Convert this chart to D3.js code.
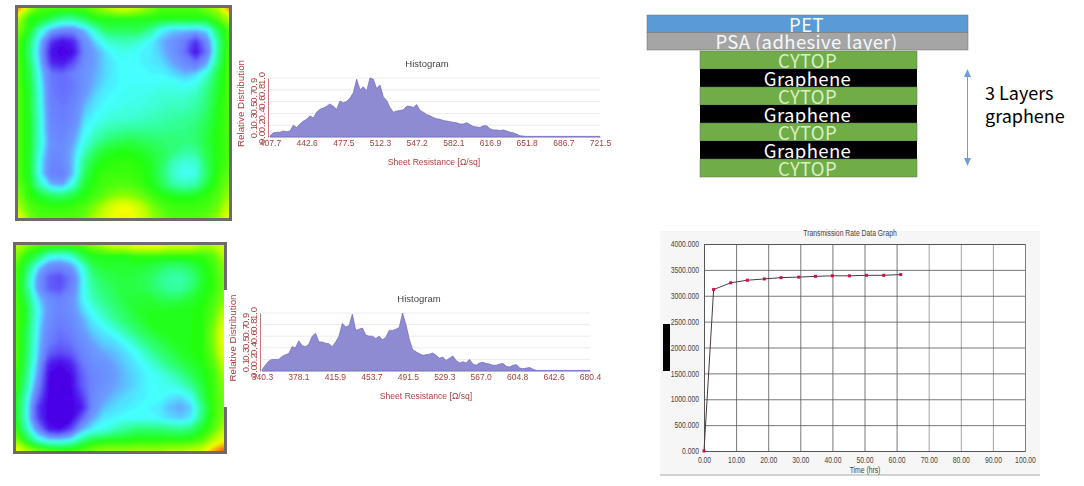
<!DOCTYPE html>
<html>
<head>
<meta charset="utf-8">
<script src="https://cdn.jsdelivr.net/npm/d3@7"></script>
<style>
  html, body { margin: 0; padding: 0; background: #fff; }
  svg { display: block; }
  text { font-family: "Liberation Sans", Arial, sans-serif; }
</style>
</head>
<body>
<div id="chart"></div>
<script>
// Sheet resistance maps (0 = violet ... 10 = red)
const mapTop = [
  [9.5,7,6,6,6,6,6,6.5,7,7.5,7.5,7,6.5,6,6,6,6,6.5,7,9.5],
  [7,5.5,5.5,5,4.5,4.5,5,5.5,5.5,5.5,5.5,5.5,5.5,5.5,5.5,5.5,5.5,5.5,6,7],
  [6.5,5.5,4,3,2.5,2.5,3.2,4.2,5,5,5,5,4.5,3.6,3.3,3.3,3.2,3.5,5,6],
  [6,5,3.2,1,0.3,0.8,2.6,3.4,4,4.2,4.2,4,3.6,3.1,2.7,2.1,0.9,2.5,4.5,6],
  [6,4.8,3,0.3,0,0.3,2.4,3,3.5,3.8,3.8,3.6,3.5,3.2,2.7,1.9,0.3,2,4.6,6],
  [6,5,3.2,0.8,0.5,1.4,2.5,3,3.4,3.6,3.6,3.6,3.5,3.4,3,2.5,2,3,4.8,6],
  [6,5.2,3.5,2,1.8,2.2,2.7,3.1,3.4,3.6,3.6,3.6,3.6,3.6,3.4,3.2,3.4,4,5.2,6],
  [6,5.3,3.7,2,1.8,2,2.7,3.2,3.5,3.6,3.7,3.7,3.7,3.8,3.8,3.7,3.8,4.5,5.3,6],
  [6,5.4,3.8,2.1,1.9,2.1,2.9,3.4,3.6,3.7,3.7,3.8,3.9,4,4,4,4.2,4.7,5.4,6],
  [6,5.4,3.8,2.2,2,2.3,3.2,3.5,3.7,3.8,3.9,3.9,4,4.1,4.2,4.2,4.4,4.8,5.5,6],
  [6,5.4,3.9,2.3,2.1,2.4,3.4,3.7,3.9,4,4,4.1,4.2,4.3,4.4,4.5,4.6,5,5.5,6],
  [6,5.4,3.9,2.4,2.2,2.7,3.6,4,4.3,4.4,4.5,4.5,4.5,4.5,4.6,4.6,4.8,5.1,5.6,6],
  [6,5.4,4,2.6,2.4,3,3.8,4.4,4.8,5,5.1,5,4.9,4.8,4.8,4.7,4.8,5.2,5.6,6],
  [6,5.4,3.8,2.5,2.5,3.2,4.2,5,5.4,5.5,5.5,5.4,5.2,5,4.7,4.4,4.5,5.1,5.6,6],
  [6,5.4,3.6,2.3,2.4,3.3,4.7,5.4,5.6,5.7,5.7,5.6,5.4,4.9,4.2,3.9,4,5,5.6,6],
  [6,5.4,3.6,2.2,2.1,3.3,5,5.6,5.8,5.8,5.8,5.7,5.4,4.8,4,3.7,3.8,4.9,5.7,6.2],
  [6.2,5.5,4.2,3.2,3,4,5.3,5.7,5.9,6,6,5.8,5.5,5,4.4,4.2,4.4,5.2,5.8,6.5],
  [6.5,5.7,5.3,5,4.9,5.2,5.6,5.9,6.3,6.6,6.6,6.3,5.9,5.6,5.5,5.4,5.5,5.7,6,6.8],
  [7,6,5.8,5.7,5.7,5.8,6,6.5,7.3,8,8,7.3,6.5,6,5.8,5.8,5.8,5.9,6.3,7.3],
  [8,6.5,6,6,6,6,6.3,7,7.6,8.2,8.2,7.6,6.8,6.3,6,6,6,6.2,6.7,8]
];
const mapBottom = [
  [7,6.5,6,6,6,6,6,6.5,7,7.5,7.5,8,8,8,7.5,7.5,7.5,7,7,7.5],
  [6.5,5.5,5,4,3.8,4,5,5.5,5.5,5.5,5.5,5.7,5.7,5.7,5.7,5.7,5.7,5.7,6,7],
  [6,5,3.5,2.5,2.3,2.8,3.8,5,5.3,5.3,5.3,5.3,5.2,5,4.8,4.8,5,5.4,5.8,6.5],
  [6,4.6,2.8,1.6,1.3,2,3.5,4.6,5,5.1,5.2,5.1,5,4.6,4.4,4.3,4.6,5.3,5.7,6.3],
  [6,4.6,2.8,1.6,1.4,2.2,3.5,4.4,4.8,5,5.2,5.1,5,4.7,4.4,4.4,4.8,5.4,5.7,6.3],
  [6,5,3.4,2.6,2.2,2.6,3.5,4.2,4.6,4.9,5.2,5.3,5.3,5.1,5,5.1,5.3,5.5,5.9,6.5],
  [6,5.2,3.7,2.7,2.3,2.6,3.3,3.8,4.3,4.7,5,5.3,5.4,5.4,5.4,5.5,5.5,5.6,6,7],
  [6,5.2,3.6,2.5,2.1,2.4,3,3.5,3.9,4.4,4.8,5.1,5.4,5.5,5.5,5.5,5.5,5.6,6.2,7.5],
  [6,5,3.5,2.3,1.9,2.2,2.8,3.3,3.5,3.8,4.3,4.8,5.1,5.4,5.5,5.5,5.5,5.6,6.4,8],
  [6,5,3.4,2.1,1.7,1.9,2.5,3,3.3,3.4,3.7,4.2,4.7,5,5.3,5.5,5.5,5.6,6.4,8],
  [6,4.9,3.3,1.6,1.2,1.5,2.2,2.8,3,3.2,3.4,3.7,4.2,4.7,5,5.3,5.5,5.6,6.2,7.8],
  [6,4.8,3.1,0.6,0.2,0.6,1.9,2.5,2.7,3,3.3,3.5,3.8,4.2,4.7,5,5.3,5.5,6,7.2],
  [5.8,4.6,2.8,0.2,0,0.2,1.6,2.3,2.6,2.9,3.2,3.4,3.6,3.8,4.1,4.5,5,5.4,5.8,6.8],
  [5.8,4.4,2.4,0.1,0,0.1,1.5,2.3,2.7,3,3.2,3.4,3.6,3.7,3.8,4,4.5,5.2,5.8,6.5],
  [5.5,4,1.8,0,0,0,1,2.4,2.9,3.2,3.4,3.5,3.6,3.7,3.5,3.4,3.8,5,5.8,6.3],
  [5.5,3.8,1,0,0,0,0.5,2.5,3.2,3.4,3.5,3.6,3.6,3.5,3.2,3,3.3,4.6,5.8,6.3],
  [5.5,3.8,1.2,0,0,0,1.6,3,3.5,3.6,3.7,3.7,3.7,3.6,3.4,3.3,3.5,4.8,5.8,6.5],
  [5.8,4.2,2.5,0.5,0.2,1.2,3,3.6,3.8,4.2,4.5,4.8,4.8,4.8,4.7,4.6,4.8,5.4,6,7],
  [6.5,5.2,4,3.5,3.4,3.7,4.6,5.2,5.4,5.5,5.5,5.6,5.6,5.6,5.6,5.6,5.7,6,7,8],
  [8,7,6.5,6.2,6,6,6.2,6.5,6.7,6.7,6.7,6.8,6.8,6.8,7,7,7.2,7.5,9,10]
];

// Histograms
const histTopTicks = [407.7, 442.6, 477.5, 512.3, 547.2, 582.1, 616.9, 651.8, 686.7, 721.5];
const histTopValues = [
  .02,.07,.08,.08,.1,.09,.1,.2,.16,.22,.27,.3,.36,.32,.42,.47,.49,.52,.56,.52,
  .47,.61,.58,.6,.66,.75,.98,.8,.85,.78,1,.98,.82,.88,.68,.62,.5,.42,.44,.45,
  .46,.52,.52,.5,.55,.45,.42,.38,.36,.33,.31,.3,.28,.27,.26,.25,.24,.22,.22,.24,
  .21,.18,.17,.16,.19,.19,.14,.12,.12,.11,.12,.1,.08,.07,.05,.02,.015,.01,.01,.01,
  .01,.01,.01,.01,.01,.01,.01,.01,.01,.01,.01,.01,.01,.01,.01,.01,.01,.01,.01,.01
];
const histBottomTicks = [340.3, 378.1, 415.9, 453.7, 491.5, 529.3, 567.0, 604.8, 642.6, 680.4];
const histBottomValues = [
  .02,.1,.17,.2,.2,.2,.25,.28,.3,.42,.4,.52,.44,.42,.46,.6,.65,.5,.5,.48,
  .47,.42,.5,.6,.82,.76,.78,.98,.7,.72,.74,.62,.6,.6,.56,.6,.54,.58,.7,.7,
  .72,.75,1,.8,.55,.37,.33,.3,.27,.28,.29,.31,.27,.22,.24,.18,.22,.26,.18,.14,
  .16,.14,.2,.12,.1,.14,.15,.13,.12,.1,.1,.12,.13,.08,.07,.1,.11,.05,.04,.05,
  .06,.03,.01,.01,.01,.01,.01,.01,.01,.01,.01,.01,.01,.01,.01,.01,.01,.01,.01
];
const distTicks = [0, .1, .2, .3, .4, .5, .6, .7, .8, .9, 1];

// Layer stack
const filmLayers = ["PET", "PSA (adhesive layer)"];
const filmColors = ["#5b9bd5", "#a5a5a5"];
const stackLayers = ["CYTOP", "Graphene", "CYTOP", "Graphene", "CYTOP", "Graphene", "CYTOP"];

// Transmission rate
const timeHrs = [0, 3, 8.3, 13.5, 18.8, 24, 29.5, 34.7, 40, 45.3, 50.6, 56, 61.3];
const rate = [0, 3120, 3250, 3300, 3325, 3350, 3360, 3375, 3385, 3385, 3395, 3395, 3410];

const svg = d3.select("#chart").append("svg").attr("width", 1084).attr("height", 486);
const defs = svg.append("defs");
defs.append("filter").attr("id", "soft").append("feGaussianBlur").attr("stdDeviation", 0.45);
defs.append("filter").attr("id", "mapBlur").append("feGaussianBlur").attr("stdDeviation", 1.5);

const rainbow = d3.scaleLinear()
  .domain([0, 0.6, 2, 2.9, 3.6, 4.5, 5.5, 7, 8, 10])
  .range(["#4a00e6", "#4f1ff0", "#6a7cff", "#6a9cff", "#45ffff", "#30ff90", "#22ff10", "#b8ff00", "#f2ff00", "#f04a10"])
  .clamp(true);

function drawMap(grid, box, id) {
  const rows = grid.length, cols = grid[0].length;
  const x = d3.scaleLinear().domain([0.5, cols - 0.5]).range([box.x0, box.x1]);
  const y = d3.scaleLinear().domain([0.5, rows - 0.5]).range([box.y0, box.y1]);
  const contours = d3.contours().size([cols, rows]).thresholds(d3.range(-0.1, 10.1, 0.1))(grid.flat());
  const path = d3.geoPath(d3.geoTransform({
    point(px, py) { this.stream.point(x(px), y(py)); }
  }));

  defs.append("clipPath").attr("id", id).append("rect")
    .attr("x", box.x0).attr("y", box.y0)
    .attr("width", box.x1 - box.x0).attr("height", box.y1 - box.y0);

  svg.append("rect")
    .attr("x", box.x0).attr("y", box.y0)
    .attr("width", box.x1 - box.x0).attr("height", box.y1 - box.y0)
    .attr("fill", rainbow(6));

  svg.append("g").attr("clip-path", `url(#${id})`)
    .append("g").attr("filter", "url(#mapBlur)")
    .selectAll("path")
    .data(contours)
    .join("path")
    .attr("d", path)
    .attr("fill", d => rainbow(d.value));

  svg.append("rect")
    .attr("x", box.x0 - 1.5).attr("y", box.y0 - 1.5)
    .attr("width", box.x1 - box.x0 + 3).attr("height", box.y1 - box.y0 + 3)
    .attr("fill", "none")
    .attr("stroke", "#6e6a6a")
    .attr("stroke-width", 3);
}

drawMap(mapTop, { x0: 18, x1: 229, y0: 8, y1: 218 }, "clipTop");
drawMap(mapBottom, { x0: 16, x1: 224, y0: 245, y1: 451 }, "clipBottom");

// the histogram panel sits over the right edge of the lower map
svg.append("rect").attr("x", 224).attr("y", 290).attr("width", 3).attr("height", 117).attr("fill", "#fff");

function drawHistogram(values, ticks, box) {
  const g = svg.append("g").attr("filter", "url(#soft)");
  const red = "#a5403f";
  const x = d3.scaleLinear().domain([ticks[0], ticks[ticks.length - 1]]).range([box.x0, box.x1]);
  const y = d3.scaleLinear().domain([0, 1]).range([box.y0, box.y1]);
  const binWidth = (ticks[ticks.length - 1] - ticks[0]) / (values.length - 1);

  g.append("g").selectAll("line")
    .data([.2, .4, .6, .8, 1])
    .join("line")
    .attr("x1", box.x0).attr("x2", box.x1)
    .attr("y1", d => y(d)).attr("y2", d => y(d))
    .attr("stroke", "#ececec");

  const area = d3.area()
    .x((d, i) => x(ticks[0] + i * binWidth))
    .y0(y(0))
    .y1(d => y(d));

  g.append("path").datum(values)
    .attr("d", area)
    .attr("fill", "#8f8bd2")
    .attr("stroke", "#6e68bd")
    .attr("stroke-width", 0.7);

  const xAxis = g.append("g")
    .attr("transform", `translate(0,${box.y0})`)
    .call(d3.axisBottom(x).tickValues(ticks).tickFormat(d3.format(".1f")).tickSize(0).tickPadding(3));
  xAxis.select(".domain").attr("stroke", "#b9b9b9");
  xAxis.selectAll("text").attr("fill", red).style("font-size", "8.5px");

  // the 0.0 - 1.0 labels are rotated and pile up on two columns
  const yAxis = g.append("g")
    .attr("transform", `translate(${box.x0 - 2},0)`)
    .call(d3.axisLeft(y).tickValues(distTicks).tickFormat(d3.format(".1f")).tickSize(0));
  yAxis.select(".domain").attr("stroke", red).attr("stroke-opacity", 0.7);
  yAxis.selectAll("text")
    .attr("fill", red)
    .attr("x", 0).attr("y", 0).attr("dy", 0)
    .attr("transform", (d, i) => `translate(${i % 2 ? -11 : -3},0) rotate(-90)`)
    .attr("text-anchor", "middle")
    .style("font-size", "9.5px");

  g.append("text")
    .attr("x", box.titleX).attr("y", box.y1 - 11)
    .attr("text-anchor", "middle")
    .attr("fill", "#444")
    .style("font-size", "9.5px")
    .text("Histogram");

  g.append("text")
    .attr("x", box.titleX + 7).attr("y", box.y0 + 28)
    .attr("text-anchor", "middle")
    .attr("fill", red)
    .style("font-size", "8.6px")
    .text("Sheet Resistance [\u03a9/sq]");

  g.append("text")
    .attr("transform", `translate(${box.x0 - 26},${(box.y0 + box.y1) / 2 - 4}) rotate(-90)`)
    .attr("text-anchor", "middle")
    .attr("fill", red)
    .style("font-size", "9.8px")
    .text("Relative Distribution");
}

drawHistogram(histTopValues, histTopTicks, { x0: 270, x1: 600, y0: 137, y1: 78, titleX: 427 });
drawHistogram(histBottomValues, histBottomTicks, { x0: 262, x1: 590, y0: 371, y1: 313, titleX: 419 });

// Layer stack
const filmY = d3.scaleBand().domain(d3.range(filmLayers.length)).range([15, 50]);
const stackY = d3.scaleBand().domain(d3.range(stackLayers.length)).range([51, 177]);

function drawLayers(names, yScale, x0, x1, fill, color) {
  const layer = svg.append("g").selectAll("g")
    .data(names)
    .join("g");
  layer.append("rect")
    .attr("x", x0).attr("width", x1 - x0)
    .attr("y", (d, i) => yScale(i)).attr("height", yScale.bandwidth())
    .attr("fill", (d, i) => fill(d, i))
    .attr("stroke", d => d === "Graphene" ? "none" : "#6b6b6b")
    .attr("stroke-width", 0.5);
  layer.append("text")
    .attr("x", (x0 + x1) / 2 - 1)
    .attr("y", (d, i) => yScale(i) + yScale.bandwidth() - 1)
    .attr("text-anchor", "middle")
    .attr("fill", (d, i) => color(d, i))
    .style("font-family", "'Noto Sans CJK KR', 'Noto Sans', sans-serif")
    .style("font-size", "18.5px")
    .style("letter-spacing", "0.4px")
    .text(d => d);
}

drawLayers(filmLayers, filmY, 647, 968, (d, i) => filmColors[i], () => "#f4f8fc");
drawLayers(stackLayers, stackY, 700, 917,
  d => d === "Graphene" ? "#000" : "#70ad47",
  d => d === "Graphene" ? "#fff" : "#d9f0c4");

// Double headed arrow next to the stack
const arrowColor = "#6f9fd0";
svg.append("line")
  .attr("x1", 967.5).attr("x2", 967.5).attr("y1", 72).attr("y2", 164)
  .attr("stroke", arrowColor).attr("stroke-width", 1);
svg.append("path").attr("d", d3.line()([[967.5, 69], [964, 77], [971, 77]])).attr("fill", arrowColor);
svg.append("path").attr("d", d3.line()([[967.5, 166], [964, 158], [971, 158]])).attr("fill", arrowColor);

svg.selectAll(".note")
  .data(["3 Layers", "graphene"])
  .join("text")
  .attr("x", 985)
  .attr("y", (d, i) => 100 + i * 23)
  .attr("fill", "#000")
  .style("font-family", "'Noto Sans CJK KR', 'Noto Sans', sans-serif")
  .style("font-size", "18px")
  .text(d => d);

// Transmission rate graph
svg.append("rect").attr("x", 660).attr("y", 231).attr("width", 380).attr("height", 244).attr("fill", "#f6f6f6");
svg.append("line").attr("x1", 660).attr("x2", 1040).attr("y1", 475).attr("y2", 475).attr("stroke", "#a8a8a8");
svg.append("rect").attr("x", 704).attr("y", 244).attr("width", 321).attr("height", 207).attr("fill", "#fff");

// labels on this graph are squeezed sideways in the original screenshot
function squeeze(sel) {
  sel.style("font-size", "8.5px").attr("fill", "#444");
  sel.each(function() {
    d3.select(this)
      .attr("textLength", this.getComputedTextLength() * 0.8)
      .attr("lengthAdjust", "spacingAndGlyphs");
  });
}

const rateX = d3.scaleLinear().domain([0, 100]).range([704, 1025]);
const rateY = d3.scaleLinear().domain([0, 4000]).range([451, 244]);

const rateXAxis = svg.append("g")
  .attr("transform", "translate(0,451)")
  .call(d3.axisBottom(rateX).ticks(10).tickFormat(d3.format(".2f")).tickSize(-207).tickPadding(6));
const rateYAxis = svg.append("g")
  .attr("transform", "translate(704,0)")
  .call(d3.axisLeft(rateY).ticks(8).tickFormat(d3.format(".3f")).tickSize(-321).tickPadding(5));
[rateXAxis, rateYAxis].forEach(a => {
  a.select(".domain").attr("stroke", "#555");
  a.selectAll("line").attr("stroke", "#555").attr("stroke-width", 0.8);
  a.selectAll("text").call(squeeze);
});
rateXAxis.selectAll("line").attr("stroke", d => d > 60 ? "#8a8a8a" : "#555");

svg.append("path").datum(rate)
  .attr("d", d3.line().x((d, i) => rateX(timeHrs[i])).y(d => rateY(d)))
  .attr("fill", "none")
  .attr("stroke", "#4a3a44")
  .attr("stroke-width", 1);

svg.append("g").selectAll("rect")
  .data(rate)
  .join("rect")
  .attr("x", (d, i) => rateX(timeHrs[i]) - 1.5)
  .attr("y", d => rateY(d) - 1.5)
  .attr("width", 3).attr("height", 3)
  .attr("fill", "#d01040");

svg.append("text")
  .attr("x", 850).attr("y", 236)
  .attr("text-anchor", "middle")
  .text("Transmission Rate Data Graph")
  .call(squeeze);
svg.append("text")
  .attr("x", 865).attr("y", 473)
  .attr("text-anchor", "middle")
  .text("Time (hrs)")
  .call(squeeze);

// Redacted axis title
svg.append("rect").attr("x", 663).attr("y", 324).attr("width", 7).attr("height", 47).attr("fill", "#000");
</script>
</body>
</html>
